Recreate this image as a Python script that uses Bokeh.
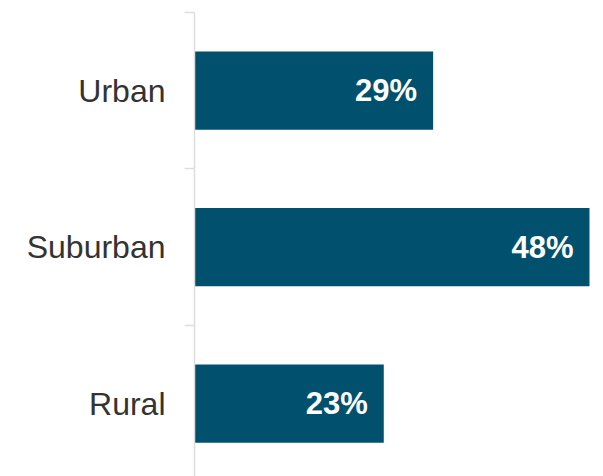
from bokeh.plotting import figure
from bokeh.models import Range1d, LinearAxis, FixedTicker, ColumnDataSource
from bokeh.core.properties import value
from bokeh.embed import file_html
from bokeh.resources import INLINE

# Data (top to bottom)
categories = ["Urban", "Suburban", "Rural"]
shares = [29, 48, 23]
value_labels = ["29%", "48%", "23%"]

n = len(categories)
# numeric band position: top category gets highest index
band_index = [n - 1 - i for i in range(n)]
centers = [b + 0.5 for b in band_index]

src = ColumnDataSource(dict(cat=categories, share=shares, lab=value_labels, y=centers))

BAR = "#00506e"
AXIS = "#dddddd"
FONT = "Liberation Sans"

x_end = max(shares) * 1.0152
p = figure(width=595, height=476, output_backend="svg", toolbar_location=None,
           x_range=Range1d(0, x_end), y_range=Range1d(n - 2.965, n),
           x_axis_location=None, y_axis_location=None,
           min_border_left=194, min_border_right=0, min_border_top=12, min_border_bottom=0)
p.outline_line_color = None
p.xgrid.visible = False
p.ygrid.visible = False
p.background_fill_color = "white"
p.border_fill_color = "white"

# axis with tick marks at category boundaries (nearest the plot)
tick_axis = LinearAxis(ticker=FixedTicker(ticks=[float(b) for b in range(n + 1)]),
                       major_label_overrides={b: "" for b in range(n + 1)},
                       major_label_standoff=0,
                       axis_line_color=AXIS, axis_line_width=1.5,
                       major_tick_line_color=AXIS, major_tick_line_width=1.5,
                       major_tick_in=0, major_tick_out=10,
                       minor_tick_line_color=None)
p.add_layout(tick_axis, "left")

# axis carrying the category labels at band centres
label_axis = LinearAxis(ticker=FixedTicker(ticks=centers),
                        major_label_overrides={c: cat for c, cat in zip(centers, categories)},
                        major_label_standoff=19,
                        major_label_text_font=FONT,
                        major_label_text_font_size="32px",
                        major_label_text_color="#333333",
                        axis_line_color=None, major_tick_line_color=None,
                        major_tick_in=0, major_tick_out=0,
                        minor_tick_line_color=None)
p.add_layout(label_axis, "left")

p.hbar(y="y", right="share", left=0, height=0.5, source=src,
       fill_color=BAR, line_color=None)

p.text(x="share", y="y", text="lab", source=src, x_offset=-16,
       text_align="right", text_baseline="middle",
       text_font=value(FONT), text_font_size="31px", text_font_style="bold",
       text_color="white")

open("out.html", "w").write(file_html(p, INLINE))
